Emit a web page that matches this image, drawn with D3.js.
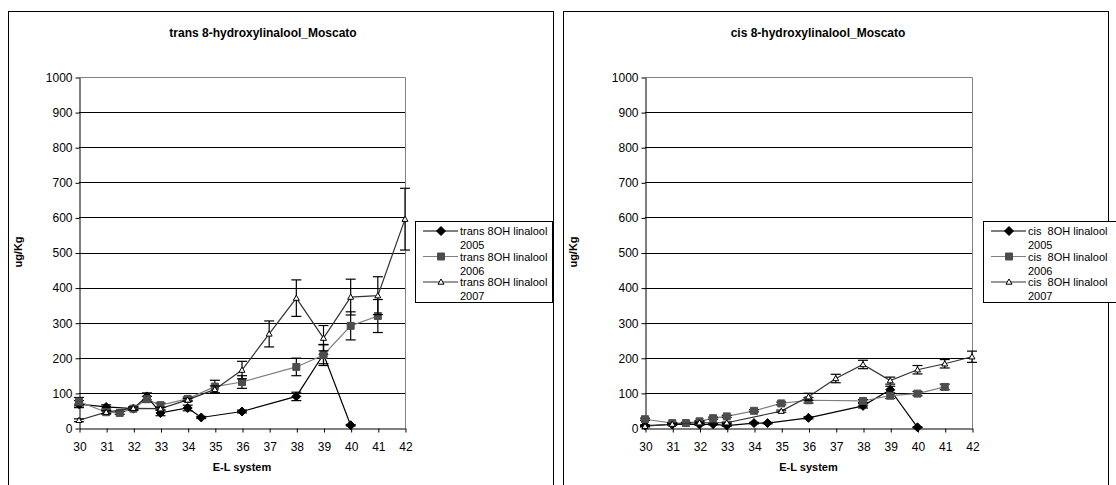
<!DOCTYPE html>
<html>
<head>
<meta charset="utf-8">
<script src="https://cdn.jsdelivr.net/npm/d3@7"></script>
<style>
  body { margin: 0; background: #fff; }
  svg { display: block; font-family: "Liberation Sans", Arial, sans-serif; }
</style>
</head>
<body>
<svg id="chart" width="1116" height="485"></svg>
<script>
// Phenological stage (E-L system) axis and concentration axis
const stageTicks = d3.range(30, 43);
const valueTicks = d3.range(0, 1001, 100);

// trans 8-hydroxylinalool, ug/Kg, mean and error per stage
const trans2005Stage = [30, 31, 32, 32.5, 33, 34, 34.5, 36, 38, 39, 40];
const trans2005Value = [68, 60, 55, 90, 43, 57, 30, 47, 90, 210, 8];
const trans2005Error = [10, 6, 4, 10, 8, 8, 3, 4, 12, 27, 2];

const trans2006Stage = [30, 31, 31.5, 32, 32.5, 33, 34, 35, 36, 38, 39, 40, 41];
const trans2006Value = [75, 45, 43, 55, 82, 65, 83, 118, 131, 174, 208, 291, 319];
const trans2006Error = [12, 5, 4, 5, 8, 6, 5, 18, 18, 25, 30, 40, 47];

const trans2007Stage = [30, 31, 32, 33, 34, 35, 36, 37, 38, 39, 40, 41, 42];
const trans2007Value = [22, 45, 56, 55, 80, 110, 165, 268, 370, 256, 373, 377, 595];
const trans2007Error = [4, 4, 4, 4, 4, 10, 25, 37, 52, 36, 51, 54, 88];

// cis 8-hydroxylinalool, ug/Kg, mean and error per stage
const cis2005Stage = [30, 31, 32, 32.5, 33, 34, 34.5, 36, 38, 39, 40];
const cis2005Value = [7, 10, 10, 11, 7, 14, 14, 29, 63, 109, 2];
const cis2005Error = [2, 2, 2, 2, 2, 2, 2, 3, 6, 10, 1];

const cis2006Stage = [30, 31, 31.5, 32, 32.5, 33, 34, 35, 36, 38, 39, 40, 41];
const cis2006Value = [25, 14, 14, 19, 28, 33, 49, 70, 79, 77, 92, 98, 117];
const cis2006Error = [3, 2, 2, 2, 3, 3, 3, 4, 8, 4, 8, 6, 8];

const cis2007Stage = [30, 31, 32, 33, 35, 36, 37, 38, 39, 40, 41, 42];
const cis2007Value = [5, 11, 15, 15, 48, 89, 141, 181, 135, 166, 183, 203];
const cis2007Error = [2, 2, 2, 2, 3, 10, 12, 12, 10, 12, 12, 16];

const seriesYears = ["2005", "2006", "2007"];

const panels = [
  {
    title: "trans 8-hydroxylinalool_Moscato",
    label: "trans 8OH linalool",
    frameX: 8,
    plotX: [79, 405],
    legendX: 415,
    legendW: 137,
    series: [
      { stage: trans2005Stage, value: trans2005Value, error: trans2005Error },
      { stage: trans2006Stage, value: trans2006Value, error: trans2006Error },
      { stage: trans2007Stage, value: trans2007Value, error: trans2007Error }
    ]
  },
  {
    title: "cis 8-hydroxylinalool_Moscato",
    label: "cis  8OH linalool",
    frameX: 563,
    plotX: [645, 972],
    legendX: 983,
    legendW: 140,
    series: [
      { stage: cis2005Stage, value: cis2005Value, error: cis2005Error },
      { stage: cis2006Stage, value: cis2006Value, error: cis2006Error },
      { stage: cis2007Stage, value: cis2007Value, error: cis2007Error }
    ]
  }
];

// Per-year styling: line colour, marker shape, marker fill
const styles = [
  { line: "#000000", stroke: "#000000", fill: "#000000", shape: "diamond" },
  { line: "#808080", stroke: "#4d4d4d", fill: "#4d4d4d", shape: "square" },
  { line: "#333333", stroke: "#000000", fill: "#ffffff", shape: "triangle" }
];

function markerPath(shape) {
  if (shape === "diamond") return "M0,-4.5L4.5,0L0,4.5L-4.5,0Z";
  if (shape === "square") return "M-3.5,-3.5H3.5V3.5H-3.5Z";
  return "M0,-3L3,2.2H-3Z";
}

const svg = d3.select("#chart");
const plotTop = 77, plotBottom = 428;

panels.forEach(p => {
  const g = svg.append("g");

  // chart frame
  g.append("rect")
    .attr("x", p.frameX + 0.5).attr("y", 11.5)
    .attr("width", 545).attr("height", 500)
    .attr("fill", "#fff").attr("stroke", "#000").attr("stroke-width", 1);

  const x = d3.scaleLinear().domain([30, 42]).range(p.plotX);
  const y = d3.scaleLinear().domain([0, 1000]).range([plotBottom, plotTop]);

  // title
  g.append("text")
    .attr("x", p.frameX + 255).attr("y", 37)
    .attr("text-anchor", "middle")
    .attr("font-size", 12).attr("font-weight", "bold")
    .text(p.title);

  // horizontal gridlines
  g.append("g").selectAll("line")
    .data(valueTicks.filter(v => v > 0 && v < 1000))
    .join("line")
    .attr("x1", p.plotX[0]).attr("x2", p.plotX[1])
    .attr("y1", d => Math.round(y(d)) + 0.5).attr("y2", d => Math.round(y(d)) + 0.5)
    .attr("stroke", "#000").attr("stroke-width", 1);

  // plot area border (top and right, grey)
  g.append("path")
    .attr("d", `M${p.plotX[0]},${Math.round(y(1000)) + 0.5}H${Math.round(p.plotX[1]) + 0.5}V${plotBottom}`)
    .attr("fill", "none").attr("stroke", "#808080");

  // y axis
  const yAxis = d3.axisLeft(y).tickValues(valueTicks).tickFormat(d3.format("d"))
    .tickSize(4).tickPadding(3).tickSizeOuter(0);
  const ya = g.append("g")
    .attr("transform", `translate(${Math.round(p.plotX[0]) + 0.5},0.5)`)
    .call(yAxis);
  ya.select(".domain").attr("stroke", "#000");
  ya.selectAll("text").attr("font-size", 12).attr("fill", "#000")
    .attr("font-family", "Liberation Sans, Arial, sans-serif");

  // x axis
  const xAxis = d3.axisBottom(x).tickValues(stageTicks).tickFormat(d3.format("d"))
    .tickSize(4).tickPadding(10).tickSizeOuter(0);
  const xa = g.append("g")
    .attr("transform", `translate(0.5,${plotBottom + 0.5})`)
    .call(xAxis);
  xa.select(".domain").attr("stroke", "#000");
  xa.selectAll("text").attr("font-size", 12).attr("fill", "#000")
    .attr("font-family", "Liberation Sans, Arial, sans-serif");

  // axis titles
  g.append("text")
    .attr("x", (p.plotX[0] + p.plotX[1]) / 2).attr("y", 471)
    .attr("text-anchor", "middle")
    .attr("font-size", 11).attr("font-weight", "bold")
    .text("E-L system");
  g.append("text")
    .attr("transform", `translate(${p.frameX + 14},252) rotate(-90)`)
    .attr("text-anchor", "middle")
    .attr("font-size", 11).attr("font-weight", "bold")
    .text("ug/Kg");

  // series
  p.series.forEach((s, i) => {
    const st = styles[i];
    const pts = s.stage.map((v, k) => ({ x: v, y: s.value[k], e: s.error[k] }));
    const sg = g.append("g");

    sg.append("path")
      .datum(pts)
      .attr("fill", "none").attr("stroke", st.line).attr("stroke-width", 1.2)
      .attr("d", d3.line().x(d => x(d.x)).y(d => y(d.y)));

    const eb = sg.append("g").selectAll("g").data(pts).join("g")
      .attr("transform", d => `translate(${x(d.x)},0)`);
    eb.append("line")
      .attr("y1", d => y(d.y - d.e)).attr("y2", d => y(d.y + d.e))
      .attr("stroke", "#000").attr("stroke-width", 1.2);
    eb.append("line")
      .attr("x1", -5).attr("x2", 5)
      .attr("y1", d => y(d.y + d.e)).attr("y2", d => y(d.y + d.e))
      .attr("stroke", "#000").attr("stroke-width", 1.2);
    eb.append("line")
      .attr("x1", -5).attr("x2", 5)
      .attr("y1", d => y(d.y - d.e)).attr("y2", d => y(d.y - d.e))
      .attr("stroke", "#000").attr("stroke-width", 1.2);

    sg.append("g").selectAll("path").data(pts).join("path")
      .attr("transform", d => `translate(${x(d.x)},${y(d.y)})`)
      .attr("d", markerPath(st.shape))
      .attr("fill", st.fill).attr("stroke", st.stroke).attr("stroke-width", 1);
  });

  // legend
  const lg = g.append("g");
  lg.append("rect")
    .attr("x", p.legendX + 0.5).attr("y", 221.5)
    .attr("width", p.legendW).attr("height", 81)
    .attr("fill", "#fff").attr("stroke", "#000");
  seriesYears.forEach((yr, i) => {
    const st = styles[i];
    const cy = 231 + i * 25.5;
    const lx = p.legendX + 8;
    lg.append("line")
      .attr("x1", lx).attr("x2", lx + 35).attr("y1", cy).attr("y2", cy)
      .attr("stroke", st.line).attr("stroke-width", 1.2);
    lg.append("path")
      .attr("transform", `translate(${lx + 18},${cy})`)
      .attr("d", markerPath(st.shape))
      .attr("fill", st.fill).attr("stroke", st.stroke);
    const t = lg.append("text")
      .attr("x", lx + 37).attr("y", cy + 4)
      .attr("font-size", 11).style("white-space", "pre");
    t.append("tspan").text(p.label);
    t.append("tspan").attr("x", lx + 37).attr("dy", 14).text(yr);
  });
});
</script>
</body>
</html>
